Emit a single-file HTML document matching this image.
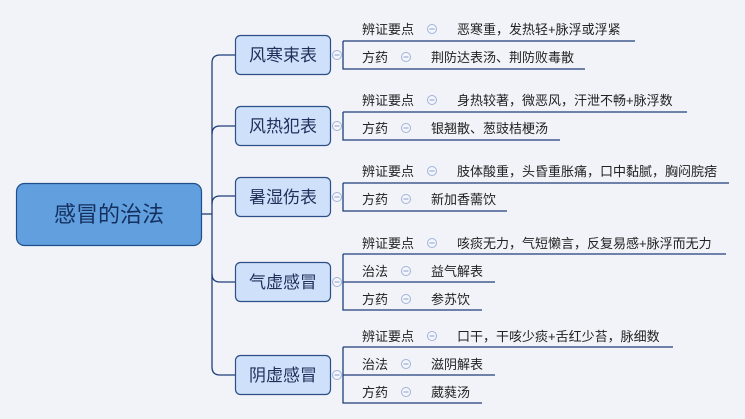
<!DOCTYPE html>
<html><head><meta charset="utf-8"><style>
html,body{margin:0;padding:0;background:#f2f3f9;}
svg{display:block;}
text{font-family:"Liberation Sans","Noto Sans CJK SC",sans-serif;}
.t{font-size:13px;fill:#222;}
.b{font-size:17px;fill:#1f2f5a;}
.ln{stroke:#1f3f7a;stroke-width:1.3;fill:none;}
.c{fill:#f4f6fc;stroke:#9fb3d8;stroke-width:1;}
.cm{stroke:#8aa0c8;stroke-width:1;}
</style></head><body>
<svg width="745" height="419" viewBox="0 0 745 419" xmlns="http://www.w3.org/2000/svg">
<rect width="745" height="419" fill="#f2f3f9"/>
<!-- trunk -->
<path class="ln" d="M202 214 H212"/>
<path class="ln" d="M235 55 H220 Q212 55 212 63 V367 Q212 375 220 375 H235"/>
<path class="ln" d="M212 134 Q212 126 220 126 H235"/>
<path class="ln" d="M212 204 Q212 196 220 196 H235"/>
<path class="ln" d="M212 274 Q212 282 220 282 H235"/>
<!-- root -->
<rect x="16.5" y="183.5" width="185" height="62" rx="8" fill="#629fdf" stroke="#1f4f8a" stroke-width="1.2"/>
<text x="109" y="222" text-anchor="middle" font-size="22" fill="#14305e">感冒的治法</text>
<!-- level 1 boxes -->
<g>
<rect x="235.5" y="35.5" width="95" height="39" rx="5" fill="#cfe0fb" stroke="#2c4f86" stroke-width="1.2"/>
<text class="b" x="283" y="61" text-anchor="middle">风寒束表</text>
<rect x="235.5" y="106.5" width="95" height="39" rx="5" fill="#cfe0fb" stroke="#2c4f86" stroke-width="1.2"/>
<text class="b" x="283" y="132" text-anchor="middle">风热犯表</text>
<rect x="235.5" y="177.5" width="95" height="39" rx="5" fill="#cfe0fb" stroke="#2c4f86" stroke-width="1.2"/>
<text class="b" x="283" y="203" text-anchor="middle">暑湿伤表</text>
<rect x="235.5" y="262.5" width="95" height="39" rx="5" fill="#cfe0fb" stroke="#2c4f86" stroke-width="1.2"/>
<text class="b" x="283" y="288" text-anchor="middle">气虚感冒</text>
<rect x="235.5" y="355.5" width="95" height="39" rx="5" fill="#cfe0fb" stroke="#2c4f86" stroke-width="1.2"/>
<text class="b" x="283" y="381" text-anchor="middle">阴虚感冒</text>
</g>
<!-- group 1 -->
<path class="ln" d="M343 41 H635 M343 41 V69 H585"/>
<circle class="c" cx="337" cy="55" r="4.5"/><path class="cm" d="M334.5 55 H339.5"/>
<text class="t" x="362" y="34">辨证要点</text>
<circle class="c" cx="432" cy="29" r="4.5"/><path class="cm" d="M429.5 29 H434.5"/>
<text class="t" x="457" y="34">恶寒重，发热轻+脉浮或浮紧</text>
<text class="t" x="362" y="62">方药</text>
<circle class="c" cx="406" cy="57" r="4.5"/><path class="cm" d="M403.5 57 H408.5"/>
<text class="t" x="431" y="62">荆防达表汤、荆防败毒散</text>
<!-- group 2 -->
<path class="ln" d="M343 112 H687 M343 112 V140 H560"/>
<circle class="c" cx="337" cy="126" r="4.5"/><path class="cm" d="M334.5 126 H339.5"/>
<text class="t" x="362" y="105">辨证要点</text>
<circle class="c" cx="432" cy="100" r="4.5"/><path class="cm" d="M429.5 100 H434.5"/>
<text class="t" x="457" y="105">身热较著，微恶风，汗泄不畅+脉浮数</text>
<text class="t" x="362" y="133">方药</text>
<circle class="c" cx="406" cy="128" r="4.5"/><path class="cm" d="M403.5 128 H408.5"/>
<text class="t" x="431" y="133">银翘散、葱豉桔梗汤</text>
<!-- group 3 -->
<path class="ln" d="M343 183 H729 M343 183 V211 H507"/>
<circle class="c" cx="337" cy="197" r="4.5"/><path class="cm" d="M334.5 197 H339.5"/>
<text class="t" x="362" y="176">辨证要点</text>
<circle class="c" cx="432" cy="171" r="4.5"/><path class="cm" d="M429.5 171 H434.5"/>
<text class="t" x="457" y="176">肢体酸重，头昏重胀痛，口中黏腻，胸闷脘痞</text>
<text class="t" x="362" y="204">方药</text>
<circle class="c" cx="406" cy="199" r="4.5"/><path class="cm" d="M403.5 199 H408.5"/>
<text class="t" x="431" y="204">新加香薷饮</text>
<!-- group 4 -->
<path class="ln" d="M343 254 H726 M343 254 V310 H482 M343 282 H495"/>
<circle class="c" cx="337" cy="282" r="4.5"/><path class="cm" d="M334.5 282 H339.5"/>
<text class="t" x="362" y="248">辨证要点</text>
<circle class="c" cx="432" cy="243" r="4.5"/><path class="cm" d="M429.5 243 H434.5"/>
<text class="t" x="457" y="248">咳痰无力，气短懒言，反复易感+脉浮而无力</text>
<text class="t" x="362" y="276">治法</text>
<circle class="c" cx="406" cy="271" r="4.5"/><path class="cm" d="M403.5 271 H408.5"/>
<text class="t" x="431" y="276">益气解表</text>
<text class="t" x="362" y="304">方药</text>
<circle class="c" cx="406" cy="299" r="4.5"/><path class="cm" d="M403.5 299 H408.5"/>
<text class="t" x="431" y="304">参苏饮</text>
<!-- group 5 -->
<path class="ln" d="M343 347 H673 M343 347 V403 H482 M343 375 H495"/>
<circle class="c" cx="337" cy="375" r="4.5"/><path class="cm" d="M334.5 375 H339.5"/>
<text class="t" x="362" y="341">辨证要点</text>
<circle class="c" cx="432" cy="336" r="4.5"/><path class="cm" d="M429.5 336 H434.5"/>
<text class="t" x="457" y="341">口干，干咳少痰+舌红少苔，脉细数</text>
<text class="t" x="362" y="369">治法</text>
<circle class="c" cx="406" cy="364" r="4.5"/><path class="cm" d="M403.5 364 H408.5"/>
<text class="t" x="431" y="369">滋阴解表</text>
<text class="t" x="362" y="397">方药</text>
<circle class="c" cx="406" cy="392" r="4.5"/><path class="cm" d="M403.5 392 H408.5"/>
<text class="t" x="431" y="397">葳蕤汤</text>
</svg>
</body></html>
